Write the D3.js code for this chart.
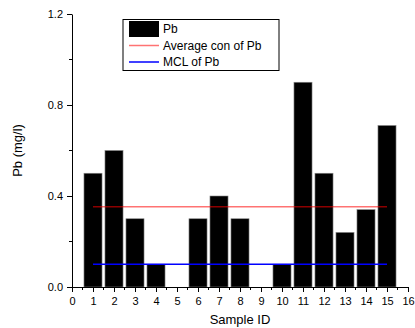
<!DOCTYPE html>
<html>
<head>
<meta charset="utf-8">
<script src="https://cdn.jsdelivr.net/npm/d3@7"></script>
<style>
  body { margin: 0; background: #fff; }
  text { font-family: "Liberation Sans", Arial, sans-serif; fill: #000; }
</style>
</head>
<body>
<div id="chart"></div>
<script>
// data
const sampleIds = [1, 2, 3, 4, 5, 6, 7, 8, 9, 10, 11, 12, 13, 14, 15];
const pbValues = [0.5, 0.6, 0.3, 0.1, 0, 0.3, 0.4, 0.3, 0, 0.1, 0.9, 0.5, 0.24, 0.34, 0.71];
const averageCon = 0.353;
const mclValue = 0.1;
const xTicks = d3.range(0, 17);
const yTicks = [0, 0.4, 0.8, 1.2];
const legendLabels = ["Pb", "Average con of Pb", "MCL of Pb"];

const width = 415, height = 328;
const margin = { top: 14, right: 7, bottom: 41, left: 72 };
const innerW = width - margin.left - margin.right;
const innerH = height - margin.top - margin.bottom;

const svg = d3.select("#chart").append("svg")
  .attr("width", width)
  .attr("height", height);

const g = svg.append("g")
  .attr("transform", `translate(${margin.left},${margin.top})`);

const x = d3.scaleLinear().domain([0, 16]).range([0, innerW]);
const y = d3.scaleLinear().domain([0, 1.2]).range([innerH, 0]);
const barW = x(0.86) - x(0);

// bars
g.selectAll("rect.bar")
  .data(sampleIds.map((id, i) => ({ id, v: pbValues[i] })))
  .join("rect")
  .attr("class", "bar")
  .attr("x", d => x(d.id) - barW / 2)
  .attr("y", d => y(d.v))
  .attr("width", barW)
  .attr("height", d => innerH - y(d.v))
  .attr("fill", "#000")
  .attr("stroke", "#888")
  .attr("stroke-width", 0.6);

// reference lines
const refLine = (val, color, opacity) => {
  g.append("line")
    .attr("x1", x(sampleIds[0])).attr("x2", x(sampleIds[sampleIds.length - 1]))
    .attr("y1", y(val)).attr("y2", y(val))
    .attr("stroke", color)
    .attr("stroke-opacity", opacity)
    .attr("stroke-width", 1.5);
};
refLine(averageCon, "#ff0000", 0.55);
refLine(mclValue, "#0000ff", 1);

// axes
const yAxis = g.append("g")
  .call(d3.axisLeft(y).tickValues(yTicks).tickFormat(d3.format(".1f")).tickSize(5).tickSizeOuter(0));
yAxis.selectAll("text").attr("font-size", 11).attr("dx", "-1");
yAxis.append("g").selectAll("line")
  .data([0.2, 0.6, 1.0])
  .join("line")
  .attr("x1", -3).attr("x2", 0)
  .attr("y1", d => y(d)).attr("y2", d => y(d))
  .attr("stroke", "#000");

const xAxis = g.append("g")
  .attr("transform", `translate(0,${innerH})`)
  .call(d3.axisBottom(x).tickValues(xTicks).tickFormat(d3.format("d")).tickSize(5).tickSizeOuter(0));
xAxis.selectAll("text").attr("font-size", 11).attr("dy", "0.95em");
xAxis.append("g").selectAll("line")
  .data(d3.range(0.5, 16, 1))
  .join("line")
  .attr("x1", d => x(d)).attr("x2", d => x(d))
  .attr("y1", 0).attr("y2", 3)
  .attr("stroke", "#000");

svg.selectAll(".domain").attr("stroke", "#000");

// axis titles
svg.append("text")
  .attr("transform", `translate(17,${margin.top + innerH / 2}) rotate(-90)`)
  .attr("text-anchor", "middle")
  .attr("dy", "0.35em")
  .attr("font-size", 13)
  .text("Pb (mg/l)");

svg.append("text")
  .attr("x", 240)
  .attr("y", 319)
  .attr("text-anchor", "middle")
  .attr("dy", "0.35em")
  .attr("font-size", 13)
  .text("Sample ID");

// legend
const legend = svg.append("g").attr("transform", "translate(123,19.5)");
legend.append("rect")
  .attr("width", 156).attr("height", 51)
  .attr("fill", "#fff")
  .attr("stroke", "#000")
  .attr("stroke-width", 1);
legend.append("rect")
  .attr("x", 6).attr("y", 1.5)
  .attr("width", 30).attr("height", 16)
  .attr("fill", "#000");
legend.append("line")
  .attr("x1", 6).attr("x2", 36).attr("y1", 26).attr("y2", 26)
  .attr("stroke", "#ff0000").attr("stroke-opacity", 0.55).attr("stroke-width", 1.5);
legend.append("line")
  .attr("x1", 6).attr("x2", 36).attr("y1", 42.5).attr("y2", 42.5)
  .attr("stroke", "#0000ff").attr("stroke-width", 1.5);
legend.selectAll("text.lab")
  .data(legendLabels)
  .join("text")
  .attr("class", "lab")
  .attr("x", 40)
  .attr("y", (d, i) => 9.5 + i * 16.5)
  .attr("dy", "0.35em")
  .attr("font-size", 12)
  .text(d => d);
</script>
</body>
</html>
